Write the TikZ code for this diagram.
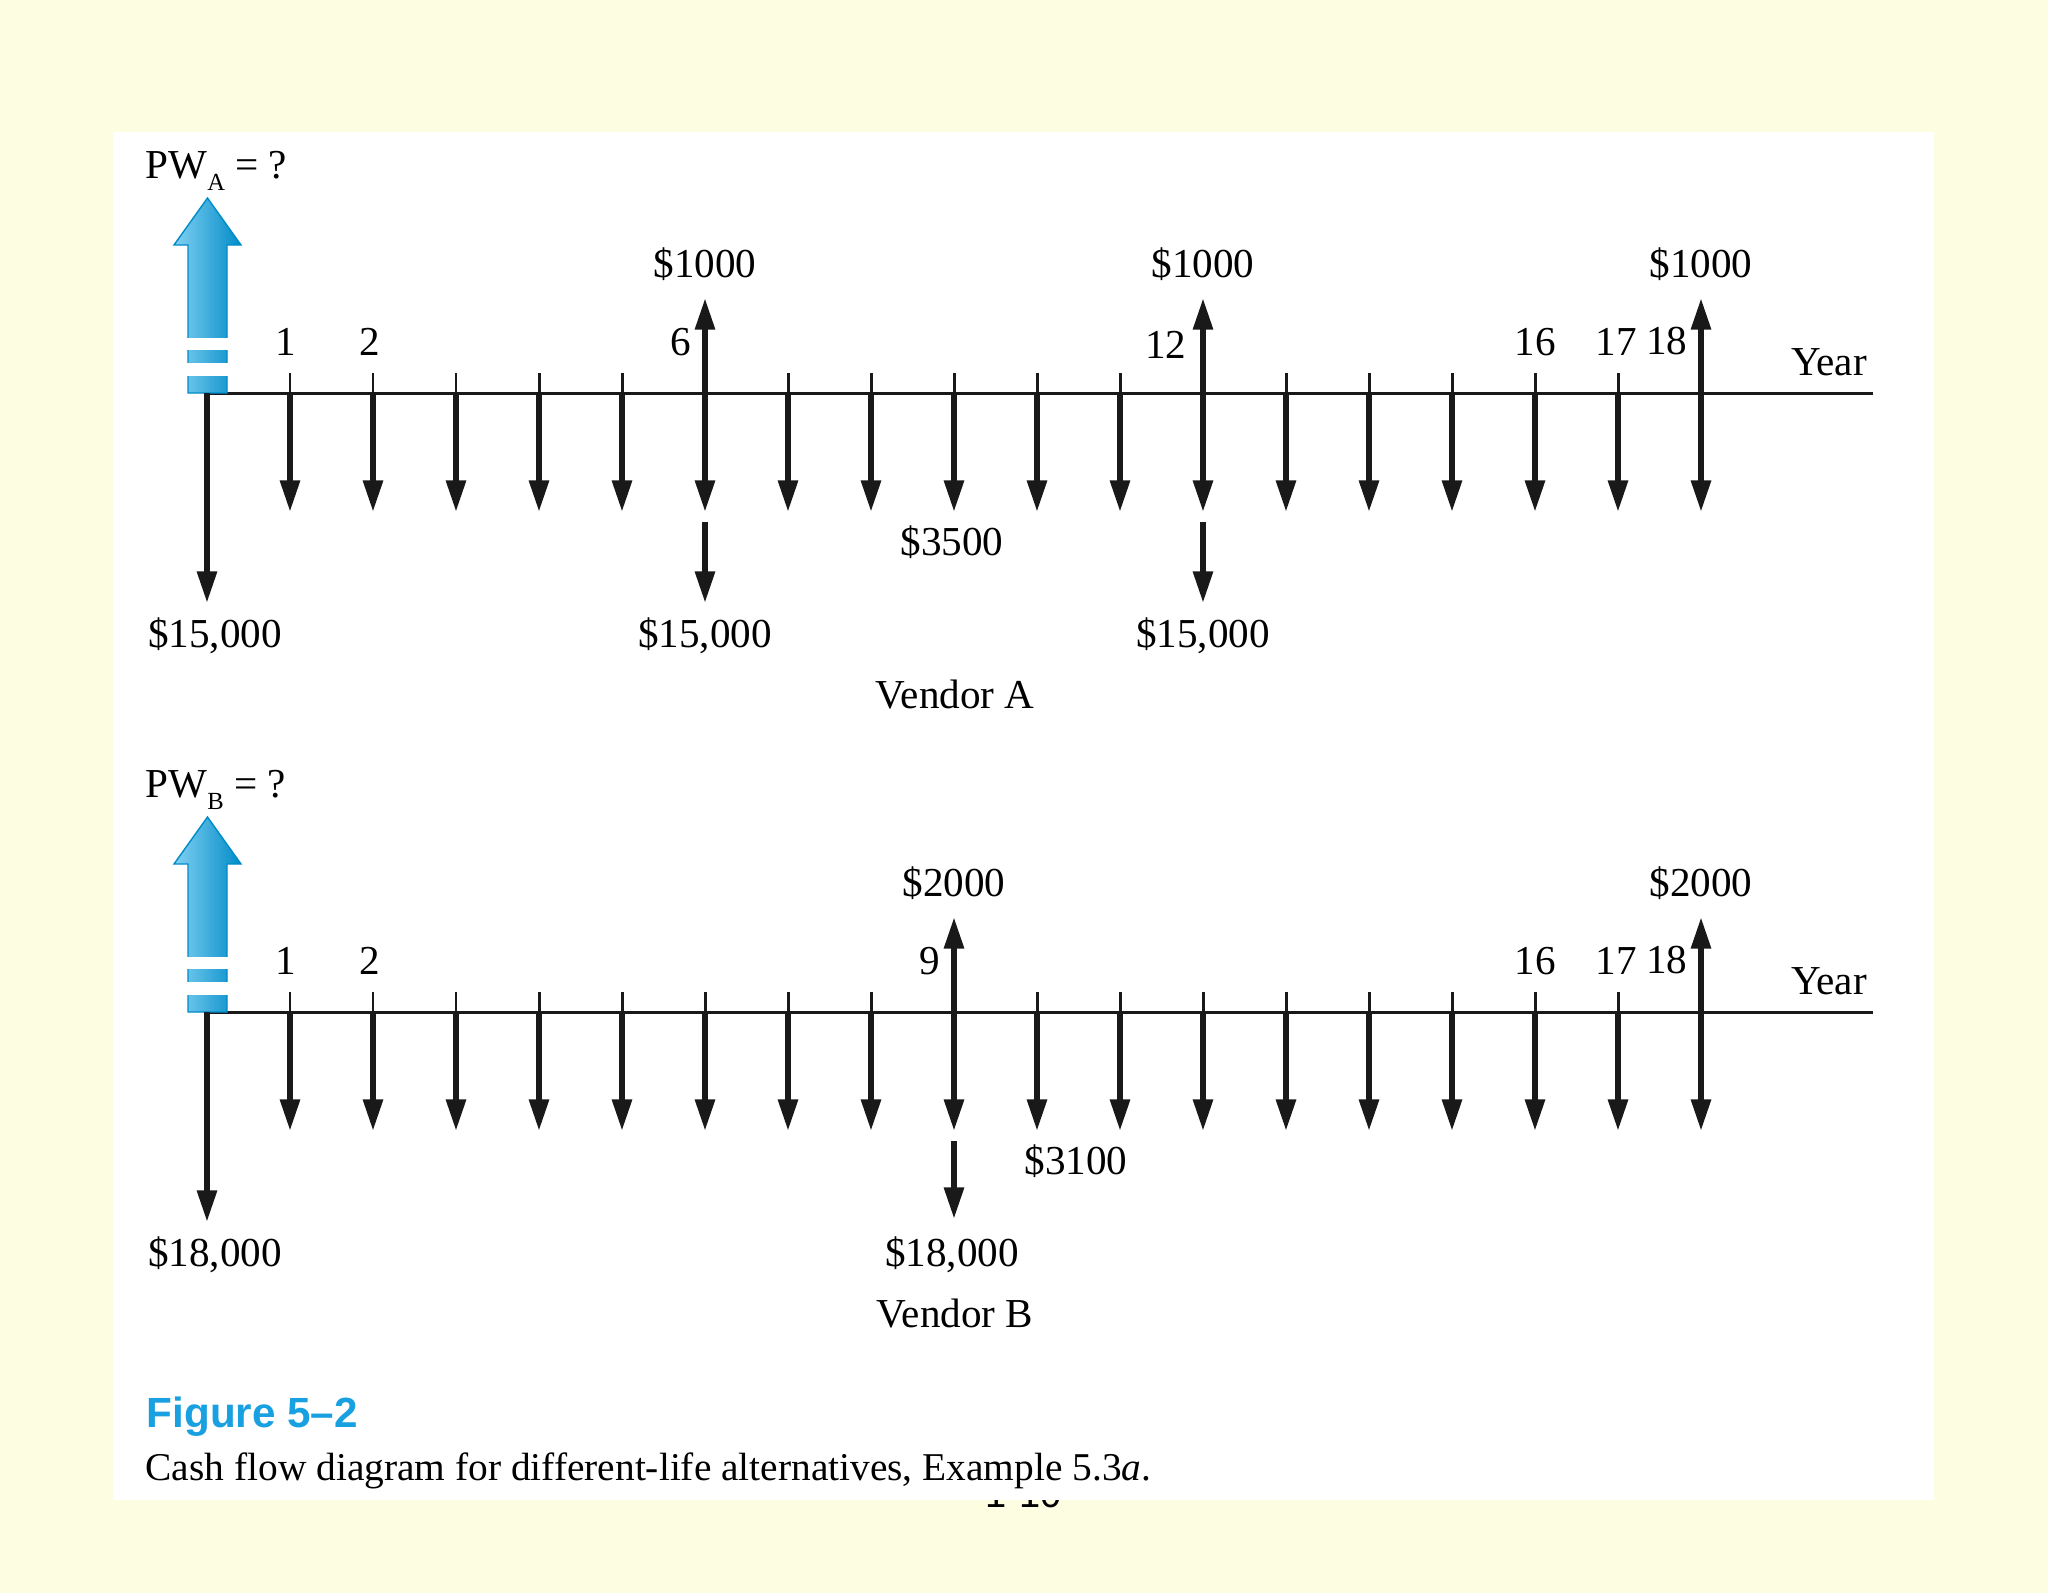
\documentclass[tikz,border=0pt]{standalone}
\usepackage{fontspec}
\usepackage{xcolor}
\usepackage{tikz}
\usetikzlibrary{arrows.meta, positioning, calc}
\newfontfamily\cffont{Liberation Serif}
\newfontfamily\capsans{Liberation Sans}
\definecolor{slidebg}{RGB}{252,253,225}
\definecolor{figblue}{RGB}{25,160,225}
\definecolor{pwlight}{RGB}{130,208,242}
\definecolor{pwdark}{RGB}{0,140,200}
\newcommand{\pwsub}[1]{\raisebox{-0.3em}{\fontsize{7}{8}\selectfont #1}}
\tikzset{
    axisline/.style={
        draw=black!90,
        line width=0.85pt
    },
    yeartick/.style={
        draw=black!90,
        line width=0.85pt
    },
    cash/.style={
        draw=black!90,
        line width=1.7pt,
        -{Triangle[length=9pt, width=5.4pt]}
    },
    amount/.style={
        font=\cffont\fontsize{11.7}{13}\selectfont,
        inner sep=0pt
    },
    yearno/.style={
        font=\cffont\fontsize{11.7}{13}\selectfont,
        inner sep=0pt
    },
    word/.style={
        font=\cffont\fontsize{11.7}{13}\selectfont,
        inner sep=0pt
    },
    pwbar/.style={
        left color=pwlight,
        right color=pwdark,
        draw=pwdark,
        line width=0.4pt
    },
    figlabel/.style={
        font=\capsans\bfseries\fontsize{12}{14}\selectfont,
        text=figblue,
        inner sep=0pt
    },
    captext/.style={
        font=\cffont\fontsize{11.2}{13}\selectfont,
        inner sep=0pt
    },
    pagefont/.style={
        font=\capsans\fontsize{10.8}{12}\selectfont,
        inner sep=0pt
    }
}

\begin{document}
\begin{tikzpicture}[x=0.01cm, y=-0.01cm]

\useasboundingbox (0,0) rectangle (2048,1593);

% Slide background and white figure panel
\fill[slidebg] (0,0) rectangle (2048,1593);
\node[pagefont, anchor=base west] (pageno) at (985,1507) {1-10};
\fill[white] (113,132) rectangle (1934,1500);

% Vendor A
\begin{scope}
\coordinate (A0) at (207,393);
\coordinate (Aend) at (1873,393);
\draw[axisline] (A0) -- (Aend);
\node[word] (yearA) at (1829,362) {Year};

\foreach \i in {1,...,18} {
    \coordinate (A\i) at ({207+83*\i},393);
    \coordinate (At\i) at ({207+83*\i},373);
    \coordinate (Ad\i) at ({207+83*\i},512);
    \draw[yeartick] (A\i) -- (At\i);
    \draw[cash] (A\i) -- (Ad\i);
}
\foreach \i in {6,12,18} {
    \coordinate (Au\i) at ({207+83*\i},298);
    \draw[cash] (A\i) -- (Au\i);
    \node[amount] (inA\i) at ({207+83*\i},264) {\$1000};
}
\foreach \i in {6,12} {
    \coordinate (Ar\i) at ({207+83*\i},522);
    \coordinate (Arr\i) at ({207+83*\i},603);
    \draw[cash] (Ar\i) -- (Arr\i);
    \node[amount] (buyA\i) at ({207+83*\i},636) {\$15,000};
}

% PW arrow
\shade[pwbar] (188,393) -- (188,245) -- (174,245) -- (207.5,198) -- (241,245)
    -- (227,245) -- (227,393) -- cycle;
\fill[white] (186,338) rectangle (229,350);
\fill[white] (186,363) rectangle (229,376);
\node[word, anchor=base west] (pwA) at (145,178) {PW\pwsub{A} = ?};

\coordinate (Ad0) at (207,603);
\draw[cash] (A0) -- (Ad0);
\node[amount] (buyA0) at (215,636) {\$15,000};

\node[yearno] (nA1) at (286,342) {1};
\node[yearno] (nA2) at (370,342) {2};
\node[yearno, anchor=east] (nA6) at (692,342) {6};
\node[yearno, anchor=east] (nA12) at (1187,345) {12};
\node[yearno] (nA16) at (1535,342) {16};
\node[yearno] (nA17) at (1616,342) {17};
\node[yearno, anchor=east] (nA18) at (1688,341) {18};

\node[amount] (costA) at (952,542) {\$3500};
\node[word] (vendA) at (955,695) {Vendor A};
\end{scope}

% Vendor B
\begin{scope}[shift={(0,619)}]
\coordinate (B0) at (207,393);
\coordinate (Bend) at (1873,393);
\draw[axisline] (B0) -- (Bend);
\node[word] (yearB) at (1829,362) {Year};

\foreach \i in {1,...,18} {
    \coordinate (B\i) at ({207+83*\i},393);
    \coordinate (Bt\i) at ({207+83*\i},373);
    \coordinate (Bd\i) at ({207+83*\i},512);
    \draw[yeartick] (B\i) -- (Bt\i);
    \draw[cash] (B\i) -- (Bd\i);
}
\foreach \i in {9,18} {
    \coordinate (Bu\i) at ({207+83*\i},298);
    \draw[cash] (B\i) -- (Bu\i);
    \node[amount] (inB\i) at ({207+83*\i},264) {\$2000};
}
\coordinate (Br9) at (954,522);
\coordinate (Brr9) at (954,600);
\draw[cash] (Br9) -- (Brr9);
\node[amount] (buyB9) at (952,636) {\$18,000};

% PW arrow
\shade[pwbar] (188,393) -- (188,245) -- (174,245) -- (207.5,198) -- (241,245)
    -- (227,245) -- (227,393) -- cycle;
\fill[white] (186,338) rectangle (229,350);
\fill[white] (186,363) rectangle (229,376);
\node[word, anchor=base west] (pwB) at (145,178) {PW\pwsub{B} = ?};

\coordinate (Bd0) at (207,603);
\draw[cash] (B0) -- (Bd0);
\node[amount] (buyB0) at (215,636) {\$18,000};

\node[yearno] (nB1) at (286,342) {1};
\node[yearno] (nB2) at (370,342) {2};
\node[yearno, anchor=east] (nB9) at (941,342) {9};
\node[yearno] (nB16) at (1535,342) {16};
\node[yearno] (nB17) at (1616,342) {17};
\node[yearno, anchor=east] (nB18) at (1688,341) {18};

\node[amount] (costB) at (1076,542) {\$3100};
\node[word] (vendB) at (955,695) {Vendor B};
\end{scope}

% Caption
\node[figlabel, anchor=base west] (figno) at (146,1427) {Figure 5\textendash 2};
\node[captext, anchor=base west] (figcap) at (145,1480)
    {Cash flow diagram for different-life alternatives, Example 5.3\textit{a}.};

\end{tikzpicture}
\end{document}
